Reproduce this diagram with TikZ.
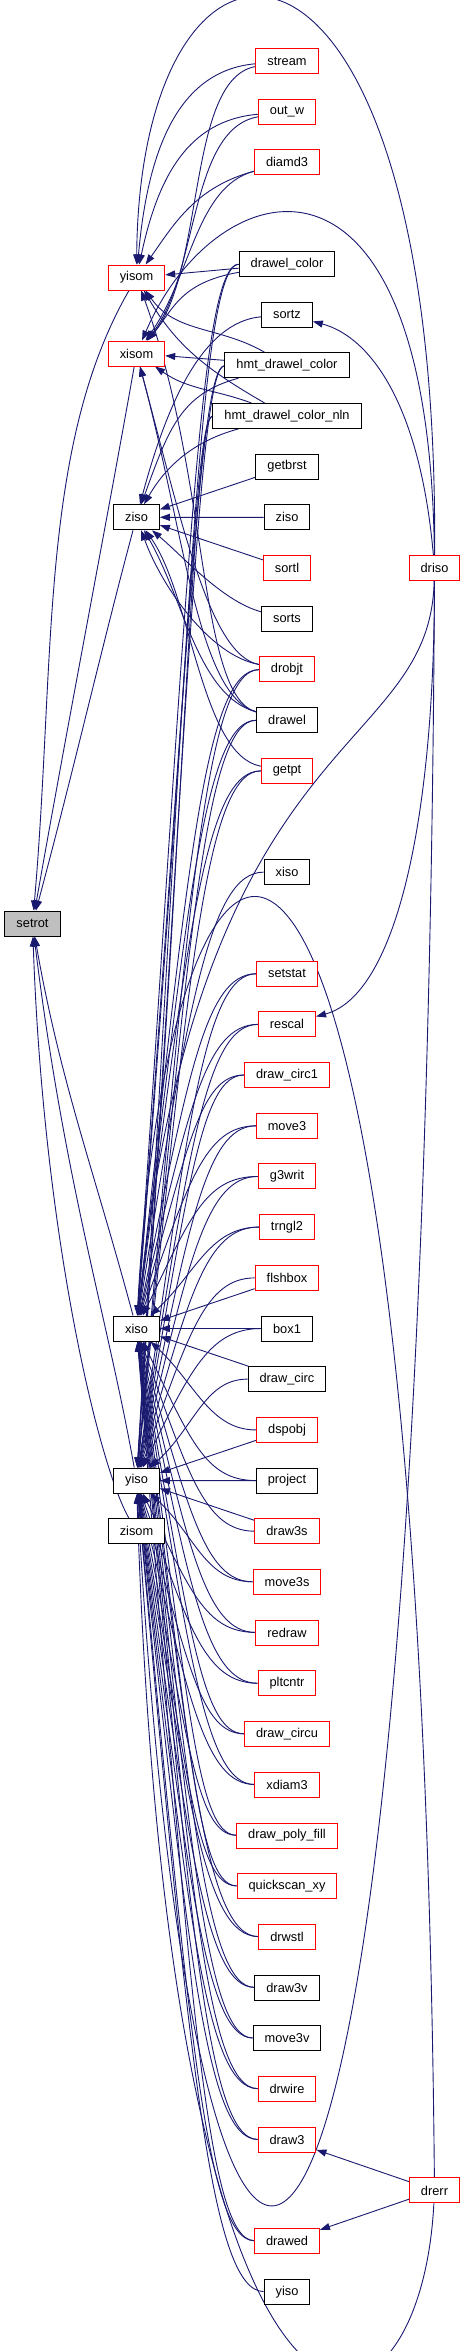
\documentclass[tikz,border=0pt]{standalone}
\usepackage{fontspec}
\setmainfont{Liberation Sans}
\usetikzlibrary{positioning, arrows.meta, backgrounds}
\definecolor{cEdge}{HTML}{191970}
\definecolor{cRed}{HTML}{FF0000}
\definecolor{cCur}{HTML}{BFBFBF}

\begin{document}
\begin{tikzpicture}[x=1pt,y=1pt,font=\fontsize{12.8}{15}\selectfont,
  fn/.style={draw=black,line width=1pt,fill=white,minimum height=25pt,inner xsep=11.5pt,inner ysep=0pt},
  fnred/.style={fn,draw=cRed},
  fncur/.style={fn,fill=cCur},
  call/.style={-{Triangle[length=10pt,width=7pt]},draw=cEdge,line width=0.9pt},
  node distance=24.7pt]
  \useasboundingbox (0,0) rectangle (465,-2351);
  % callers column
  \node[fnred] (stream) at (287,-61) {stream};
  \node[fnred, below=of stream] (outw) {out\_w};
  \node[fnred, below=of outw] (diamd3) {diamd3};
  \node[fn, below=75.4pt of diamd3] (drawelcolor) {drawel\_color};
  \node[fn, below=of drawelcolor] (sortz) {sortz};
  \node[fn, below=of sortz] (hmtcolor) {hmt\_drawel\_color};
  \node[fn, below=of hmtcolor] (hmtcolornln) {hmt\_drawel\_color\_nln};
  \node[fn, below=of hmtcolornln] (getbrst) {getbrst};
  \node[fn, below=of getbrst] (zisoR) {ziso};
  \node[fnred, below=of zisoR] (sortl) {sortl};
  \node[fn, below=of sortl] (sorts) {sorts};
  \node[fnred, below=of sorts] (drobjt) {drobjt};
  \node[fn, below=of drobjt] (drawel) {drawel};
  \node[fnred, below=of drawel] (getpt) {getpt};
  \node[fn, below=75.4pt of getpt] (xisoR) {xiso};
  \node[fnred, below=75.4pt of xisoR] (setstat) {setstat};
  \node[fnred, below=of setstat] (rescal) {rescal};
  \node[fnred, below=of rescal] (drawcirc1) {draw\_circ1};
  \node[fnred, below=of drawcirc1] (move3) {move3};
  \node[fnred, below=of move3] (g3writ) {g3writ};
  \node[fnred, below=of g3writ] (trngl2) {trngl2};
  \node[fnred, below=of trngl2] (flshbox) {flshbox};
  \node[fn, below=of flshbox] (box1) {box1};
  \node[fn, below=of box1] (drawcirc) {draw\_circ};
  \node[fnred, below=of drawcirc] (dspobj) {dspobj};
  \node[fn, below=of dspobj] (project) {project};
  \node[fnred, below=of project] (draw3s) {draw3s};
  \node[fnred, below=of draw3s] (move3s) {move3s};
  \node[fnred, below=of move3s] (redraw) {redraw};
  \node[fnred, below=of redraw] (pltcntr) {pltcntr};
  \node[fnred, below=of pltcntr] (drawcircu) {draw\_circu};
  \node[fnred, below=of drawcircu] (xdiam3) {xdiam3};
  \node[fnred, below=of xdiam3] (polyfill) {draw\_poly\_fill};
  \node[fnred, below=of polyfill] (quickscan) {quickscan\_xy};
  \node[fnred, below=of quickscan] (drwstl) {drwstl};
  \node[fn, below=of drwstl] (draw3v) {draw3v};
  \node[fn, below=of draw3v] (move3v) {move3v};
  \node[fnred, below=of move3v] (drwire) {drwire};
  \node[fnred, below=of drwire] (draw3) {draw3};
  \node[fnred, below=75.4pt of draw3] (drawed) {drawed};
  \node[fn, below=of drawed] (yisoR) {yiso};
  % callees and outer callers
  \node[fnred] (yisom) at (136.5,-277.5) {yisom};
  \node[fnred] (xisom) at (136.5,-353.5) {xisom};
  \node[fn] (zisoL) at (136.5,-517.3) {ziso};
  \node[fncur] (setrot) at (32.5,-923.5) {setrot};
  \node[fn] (xisoL) at (136.5,-1328.5) {xiso};
  \node[fn] (yisoL) at (136.5,-1480.6) {yiso};
  \node[fn] (zisom) at (136.5,-1531.3) {zisom};
  \node[fnred] (driso) at (434.5,-568) {driso};
  \node[fnred] (drerr) at (434.5,-2190.4) {drerr};

  \begin{scope}[on background layer]
  % into setrot
  \draw[call] (yisom) to[out=-120,in=85,out distance=180pt,in distance=250pt] (setrot);
  \draw[call] (xisom) to[out=-100,in=80,out distance=150pt,in distance=200pt] (setrot);
  \draw[call] (zisoL) to[out=-105,in=75,out distance=120pt,in distance=150pt] (setrot);
  \draw[call] (xisoL) to[out=105,in=-80,out distance=150pt,in distance=150pt] (setrot);
  \draw[call] (yisoL) to[out=100,in=-83,out distance=150pt,in distance=250pt] (setrot);
  \draw[call] (zisom) to[out=120,in=-88,out distance=60pt,in distance=300pt] (setrot);
  % into yisom and xisom
  \draw[call] (stream) to[out=185,in=85,out distance=80pt,in distance=110pt] (yisom);
  \draw[call] (stream) to[out=190,in=50,out distance=70pt,in distance=90pt] (xisom);
  \draw[call] (outw) to[out=185,in=78,out distance=70pt,in distance=90pt] (yisom);
  \draw[call] (outw) to[out=190,in=52,out distance=70pt,in distance=85pt] (xisom);
  \draw[call] (diamd3) to[out=195,in=55,out distance=60pt,in distance=50pt] (yisom);
  \draw[call] (diamd3) to[out=195,in=55,out distance=60pt,in distance=80pt] (xisom);
  \draw[call] (driso) .. controls (440,129) and (140,129) .. (yisom);
  \draw[call] (driso) .. controls (430,-110) and (215,-170) .. (xisom);
  \draw[call] (drawelcolor) -- (yisom); \draw[call] (drawelcolor) to[out=190,in=50,out distance=60pt,in distance=40pt] (xisom);
  \draw[call] (hmtcolor) to[out=150,in=-55] (yisom); \draw[call] (hmtcolor) -- (xisom);
  \draw[call] (hmtcolornln) to[out=150,in=-60] (yisom); \draw[call] (hmtcolornln) to[out=160,in=-35] (xisom);
  \draw[call] (drobjt) to[out=170,in=-75,out distance=50pt,in distance=160pt] (xisom);
  \draw[call] (drawel) to[out=165,in=-70,out distance=60pt,in distance=200pt] (yisom);
  \draw[call] (drawel) to[out=165,in=-75,out distance=60pt,in distance=170pt] (xisom);
  % into ziso
  \draw[call] (sortz) to[out=185,in=75,out distance=60pt,in distance=100pt] (zisoL);
  \draw[call] (hmtcolor) to[out=195,in=70,out distance=60pt,in distance=80pt] (zisoL);
  \draw[call] (hmtcolornln) to[out=195,in=60,out distance=50pt,in distance=40pt] (zisoL);
  \draw[call] (getbrst) -- (zisoL); \draw[call] (zisoR) -- (zisoL); \draw[call] (sortl) -- (zisoL);
  \draw[call] (sorts) to[out=165,in=-40,out distance=40pt,in distance=40pt] (zisoL);
  \draw[call] (drobjt) to[out=170,in=-70,out distance=50pt,in distance=60pt] (zisoL);
  \draw[call] (drawel) to[out=165,in=-60,out distance=60pt,in distance=80pt] (zisoL);
  \draw[call] (getpt) to[out=170,in=-55,out distance=60pt,in distance=80pt] (zisoL);
  % driso and drerr
  \draw[call] (driso) to[out=95,in=-15,out distance=150pt,in distance=60pt] (sortz);
  \draw[call] (driso) to[out=-90,in=15,out distance=250pt,in distance=80pt] (rescal);
  \draw[call] (driso) .. controls (430,-760) and (200,-720) .. (xisoL);
  \draw[call] (driso) .. controls (425,-2500) and (200,-2600) .. (yisoL);
  \draw[call] (drerr) .. controls (420,-600) and (170,-700) .. (xisoL);
  \draw[call] (drerr) .. controls (420,-2480) and (170,-2540) .. (yisoL);
  \draw[call] (drerr) -- (draw3); \draw[call] (drerr) -- (drawed);
  % into xiso
  \draw[call] (drawelcolor) .. controls (200,-264.5) and (188,-580) .. (xisoL);
  \draw[call] (hmtcolor) .. controls (200,-366) and (188,-651) .. (xisoL);
  \draw[call] (hmtcolornln) .. controls (195,-416.5) and (188,-686) .. (xisoL);
  \draw[call] (drobjt) .. controls (205,-670) and (188,-864) .. (xisoL);
  \draw[call] (drawel) .. controls (205,-720.5) and (188,-899) .. (xisoL);
  \draw[call] (getpt) .. controls (205,-771) and (188,-934) .. (xisoL);
  \draw[call] (xisoR) .. controls (210,-872) and (188,-1005) .. (xisoL);
  \draw[call] (setstat) .. controls (205,-974) and (188,-1077) .. (xisoL);
  \draw[call] (rescal) .. controls (205,-1024.5) and (188,-1112) .. (xisoL);
  \draw[call] (drawcirc1) .. controls (200,-1075) and (188,-1147) .. (xisoL);
  \draw[call] (move3) .. controls (205,-1126) and (188,-1183) .. (xisoL);
  \draw[call] (g3writ) .. controls (205,-1176.5) and (190,-1218) .. (xisoL);
  \draw[call] (trngl2) .. controls (210,-1227) and (195,-1274) .. (xisoL);
  \draw[call] (flshbox) -- (xisoL); \draw[call] (box1) -- (xisoL); \draw[call] (drawcirc) -- (xisoL);
  \draw[call] (dspobj) .. controls (210,-1430) and (195,-1383) .. (xisoL);
  \draw[call] (project) .. controls (205,-1480.5) and (190,-1439) .. (xisoL);
  \draw[call] (draw3s) .. controls (205,-1531) and (188,-1474) .. (xisoL);
  \draw[call] (move3s) .. controls (205,-1581.5) and (188,-1509) .. (xisoL);
  \draw[call] (redraw) .. controls (205,-1632) and (188,-1545) .. (xisoL);
  \draw[call] (pltcntr) .. controls (205,-1683) and (188,-1580) .. (xisoL);
  \draw[call] (drawcircu) .. controls (200,-1733.5) and (188,-1616) .. (xisoL);
  \draw[call] (xdiam3) .. controls (205,-1784) and (188,-1651) .. (xisoL);
  \draw[call] (polyfill) .. controls (195,-1835) and (188,-1687) .. (xisoL);
  \draw[call] (quickscan) .. controls (195,-1885.6) and (188,-1722) .. (xisoL);
  \draw[call] (drwstl) .. controls (205,-1936) and (188,-1757) .. (xisoL);
  \draw[call] (draw3v) .. controls (205,-1987) and (188,-1793) .. (xisoL);
  \draw[call] (move3v) .. controls (205,-2037.5) and (188,-1829) .. (xisoL);
  \draw[call] (drwire) .. controls (205,-2088) and (188,-1864) .. (xisoL);
  \draw[call] (draw3) .. controls (205,-2139) and (188,-1900) .. (xisoL);
  \draw[call] (drawed) .. controls (205,-2240) and (188,-1970) .. (xisoL);
  % into yiso
  \draw[call] (drawelcolor) .. controls (200,-264.5) and (188,-625) .. (yisoL);
  \draw[call] (hmtcolor) .. controls (200,-366) and (188,-697) .. (yisoL);
  \draw[call] (hmtcolornln) .. controls (195,-416.5) and (188,-732) .. (yisoL);
  \draw[call] (drobjt) .. controls (205,-670) and (188,-909) .. (yisoL);
  \draw[call] (drawel) .. controls (205,-720.5) and (188,-945) .. (yisoL);
  \draw[call] (getpt) .. controls (205,-771) and (188,-980) .. (yisoL);
  \draw[call] (setstat) .. controls (205,-974) and (188,-1122) .. (yisoL);
  \draw[call] (rescal) .. controls (205,-1024.5) and (188,-1157) .. (yisoL);
  \draw[call] (drawcirc1) .. controls (200,-1075) and (188,-1193) .. (yisoL);
  \draw[call] (move3) .. controls (205,-1126) and (188,-1229) .. (yisoL);
  \draw[call] (g3writ) .. controls (205,-1176.5) and (188,-1264) .. (yisoL);
  \draw[call] (trngl2) .. controls (205,-1227) and (188,-1299) .. (yisoL);
  \draw[call] (flshbox) .. controls (205,-1278) and (188,-1335) .. (yisoL);
  \draw[call] (box1) .. controls (210,-1328.5) and (190,-1370) .. (yisoL);
  \draw[call] (drawcirc) .. controls (205,-1379) and (195,-1426) .. (yisoL);
  \draw[call] (dspobj) -- (yisoL); \draw[call] (project) -- (yisoL); \draw[call] (draw3s) -- (yisoL);
  \draw[call] (move3s) .. controls (205,-1581.5) and (195,-1535) .. (yisoL);
  \draw[call] (redraw) .. controls (205,-1632) and (190,-1590) .. (yisoL);
  \draw[call] (pltcntr) .. controls (205,-1683) and (188,-1626) .. (yisoL);
  \draw[call] (drawcircu) .. controls (200,-1733.5) and (188,-1661) .. (yisoL);
  \draw[call] (xdiam3) .. controls (205,-1784) and (188,-1697) .. (yisoL);
  \draw[call] (polyfill) .. controls (195,-1835) and (188,-1732) .. (yisoL);
  \draw[call] (quickscan) .. controls (195,-1885.6) and (188,-1768) .. (yisoL);
  \draw[call] (drwstl) .. controls (205,-1936) and (188,-1803) .. (yisoL);
  \draw[call] (draw3v) .. controls (205,-1987) and (188,-1839) .. (yisoL);
  \draw[call] (move3v) .. controls (205,-2037.5) and (188,-1874) .. (yisoL);
  \draw[call] (drwire) .. controls (205,-2088) and (188,-1910) .. (yisoL);
  \draw[call] (draw3) .. controls (205,-2139) and (188,-1945) .. (yisoL);
  \draw[call] (drawed) .. controls (205,-2240) and (188,-2016) .. (yisoL);
  \draw[call] (yisoR) .. controls (210,-2291) and (188,-2052) .. (yisoL);
  \end{scope}
\end{tikzpicture}
\end{document}
